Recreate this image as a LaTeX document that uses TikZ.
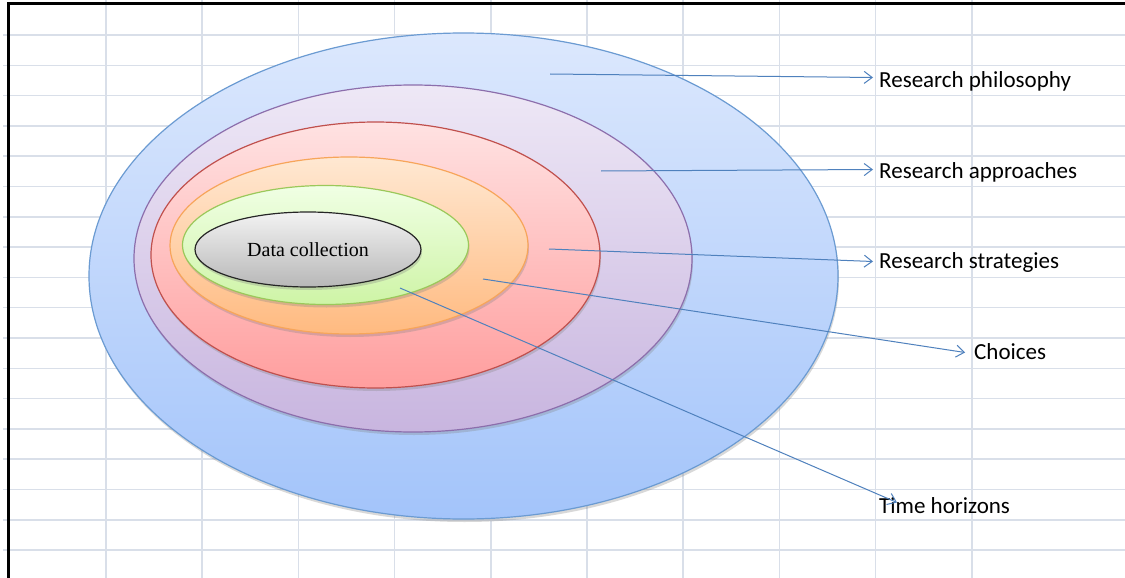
\documentclass[tikz,border=0pt]{standalone}
\usepackage{fontspec}
\setmainfont{Liberation Serif}
\newfontfamily\calfont{Carlito}
\usetikzlibrary{arrows.meta,shapes.geometric,shadows}
\definecolor{gridgray}{RGB}{217,223,233}
\definecolor{arrowblue}{RGB}{79,129,189}
\definecolor{bluetop}{RGB}{220,232,253}
\definecolor{bluebot}{RGB}{163,196,250}
\definecolor{blueline}{RGB}{107,155,210}
\definecolor{purptop}{RGB}{238,232,246}
\definecolor{purpbot}{RGB}{200,181,223}
\definecolor{purpline}{RGB}{140,110,172}
\definecolor{redtop}{RGB}{255,226,226}
\definecolor{redbot}{RGB}{255,158,158}
\definecolor{redline}{RGB}{192,80,77}
\definecolor{orangetop}{RGB}{255,232,210}
\definecolor{orangebot}{RGB}{255,186,128}
\definecolor{orangeline}{RGB}{247,165,90}
\definecolor{greentop}{RGB}{240,255,228}
\definecolor{greenbot}{RGB}{206,244,166}
\definecolor{greenline}{RGB}{155,200,90}

\begin{document}
\begin{tikzpicture}[
  x=1pt,
  y=-1pt,
  gridline/.style={draw=gridgray,line width=1.5pt},
  ring/.style={
    ellipse,
    inner sep=0pt,
    line width=1.2pt,
    drop shadow={shadow xshift=1pt,shadow yshift=-3pt,opacity=.3}
  },
  lbl/.style={
    anchor=base west,
    inner sep=0pt,
    inner xsep=6pt,
    text height=18pt,
    text depth=1pt,
    font=\calfont\fontsize{23}{27}\selectfont
  },
  arr/.style={
    -{Straight Barb[length=8pt,width=12pt]},
    draw=arrowblue,
    line width=1pt
  }
]
\useasboundingbox[fill=white] (0,0) rectangle (1125,578);

\foreach \gx in {0,...,9}
  \draw[gridline] ({106+96.2*\gx},0) -- ({106+96.2*\gx},578);
\foreach \gy in {0,...,17}
  \draw[gridline] (3,{35+30.3*\gy}) -- (1125,{35+30.3*\gy});
\draw[line width=3pt] (8.5,578) -- (8.5,4) -- (1125,4);

\node[ring,draw=blueline,top color=bluetop,bottom color=bluebot,
  minimum width=749pt,minimum height=486pt] (outer) at (463.5,276) {};
\node[ring,draw=purpline,top color=purptop,bottom color=purpbot,
  minimum width=558pt,minimum height=347pt] (purple) at (413,258.5) {};
\node[ring,draw=redline,top color=redtop,bottom color=redbot,
  minimum width=449pt,minimum height=266pt] (red) at (375.5,255) {};
\node[ring,draw=orangeline,top color=orangetop,bottom color=orangebot,
  minimum width=358pt,minimum height=177pt] (orange) at (349,245.5) {};
\node[ring,draw=greenline,top color=greentop,bottom color=greenbot,
  minimum width=286pt,minimum height=119pt] (green) at (325.5,245) {};
\node[ring,draw=black!85,top color=black!5,bottom color=black!28,
  minimum width=226pt,minimum height=75pt,
  font=\fontsize{20}{24}\selectfont] (data) at (308,249.5) {Data collection};

\node[lbl] (philo) at (873,88) {Research philosophy};
\node[lbl] (approach) at (873,178) {Research approaches};
\node[lbl] (strategy) at (873,268) {Research strategies};
\node[lbl] (choice) at (968,359) {Choices};
\node[lbl] (horizon) at (873,513) {Time horizons};

\coordinate (pStart) at (550,74);
\coordinate (aStart) at (601,171);
\coordinate (sStart) at (549,249);
\coordinate (cStart) at (483,279);
\coordinate (hStart) at (400,288);

\draw[arr] (pStart) -- ([yshift=2pt]philo.west);
\draw[arr] (aStart) -- (approach.west);
\draw[arr] (sStart) -- ([yshift=-2pt]strategy.west);
\draw[arr] (cStart) -- ([xshift=-3pt,yshift=-2pt]choice.west);
\draw[arr] (hStart) -- ([xshift=24pt,yshift=2pt]horizon.west);
\end{tikzpicture}
\end{document}
